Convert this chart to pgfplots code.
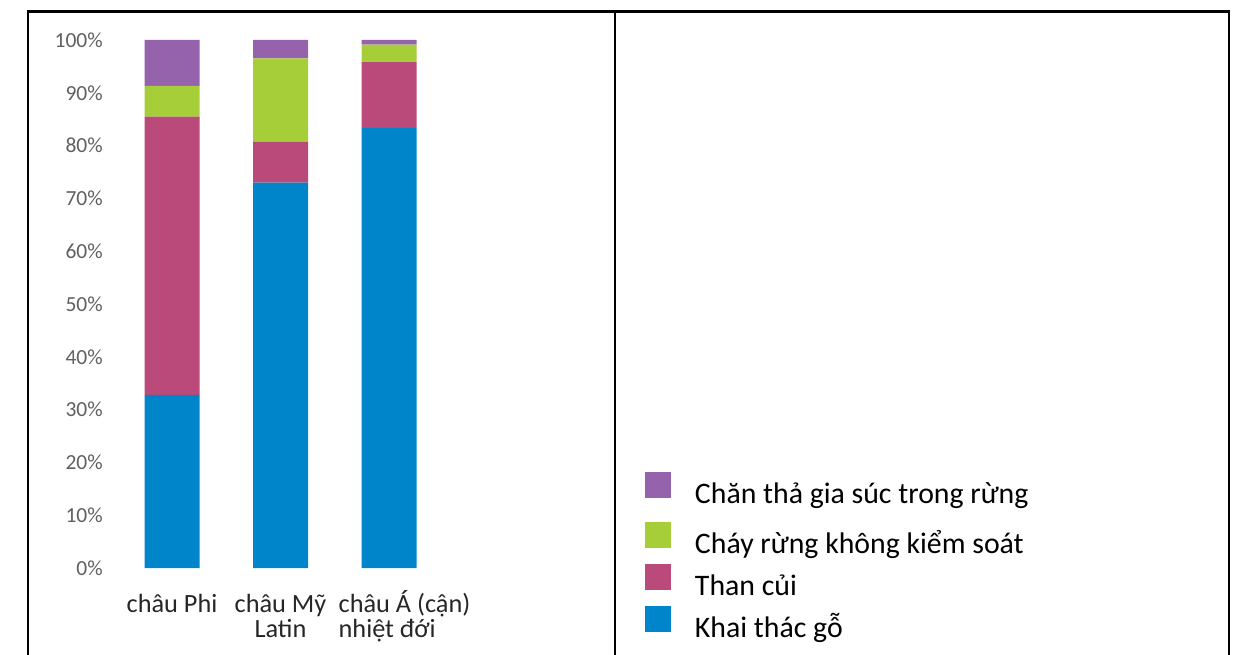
\documentclass[border=0pt]{standalone}
\usepackage{pgfplots}
\pgfplotsset{compat=1.18}
\usepackage{fontspec}
\setmainfont{Carlito}
\definecolor{cblue}{HTML}{0085CA}
\definecolor{cmag}{HTML}{BA4A7A}
\definecolor{cgreen}{HTML}{A6CE39}
\definecolor{cpurple}{HTML}{9562AC}
\definecolor{tickgray}{HTML}{5F6062}
\newcommand{\fr}{\rule{0pt}{24pt}}
\begin{document}
\begin{tikzpicture}[x=1pt,y=1pt]
\useasboundingbox (0,0) rectangle (1241,654);
% frame
\draw[line width=2.6pt,black] (28,-10) -- (28,642.5) -- (1229,642.5) -- (1229,-10);
\draw[line width=2.6pt,black] (615,-10) -- (615,642.5);
\begin{axis}[
  at={(106.9pt,86pt)}, anchor=south west,
  scale only axis, width=347.2pt, height=528pt,
  xmin=-0.6, xmax=2.6, ymin=0, ymax=100,
  enlargelimits=false,
  ybar stacked, bar width=55pt,
  axis lines=left, axis line style={draw=none,-},
  tick style={draw=none}, major tick length=0pt,
  xtick={0,1,2},
  xticklabels={
    {\begin{tabular}{@{}c@{}}\fr châu Phi\end{tabular}},
    {\begin{tabular}{@{}c@{}}\fr châu Mỹ\\Latin\end{tabular}},
    {\begin{tabular}{@{\hspace{31pt}}l@{}}\fr châu Á (cận)\\nhiệt đới\end{tabular}}},
  xticklabel style={anchor=north, inner sep=0pt, yshift=-20pt,
    font=\fontsize{26.3}{25}\selectfont, text=black!85},
  ytick={0,10,...,100},
  yticklabels={0\%,10\%,20\%,30\%,40\%,50\%,60\%,70\%,80\%,90\%,100\%},
  yticklabel style={anchor=east, inner sep=0pt, xshift=-4pt,
    font=\fontsize{21.5}{24}\selectfont, text=tickgray},
  reverse legend,
  legend image code/.code={\fill[#1] (0pt,5pt) rectangle (26pt,31pt);},
  legend style={at={(1.5498,0.1818)}, anchor=north west, draw=none, fill=none,
    inner sep=0pt, outer sep=0pt, column sep=24pt, row sep=0pt,
    nodes={inner sep=0pt, text height=31pt, text depth=11pt, anchor=base west},
    font=\fontsize{29.8}{35}\selectfont},
  legend cell align=left,
]
\addplot[fill=cblue, draw=none] coordinates {(0,32.8) (1,73.0) (2,83.3)};
\addlegendentry{Khai thác gỗ}
\addplot[fill=cmag, draw=none] coordinates {(0,52.7) (1,7.7) (2,12.5)};
\addlegendentry{Than củi}
\addplot[fill=cgreen, draw=none] coordinates {(0,5.8) (1,15.8) (2,3.3)};
\addlegendentry{Cháy rừng không kiểm soát}
\addplot[fill=cpurple, draw=none] coordinates {(0,8.7) (1,3.5) (2,0.9)};
\addlegendentry[text depth=19pt]{Chăn thả gia súc trong rừng}
\end{axis}
\end{tikzpicture}
\end{document}
